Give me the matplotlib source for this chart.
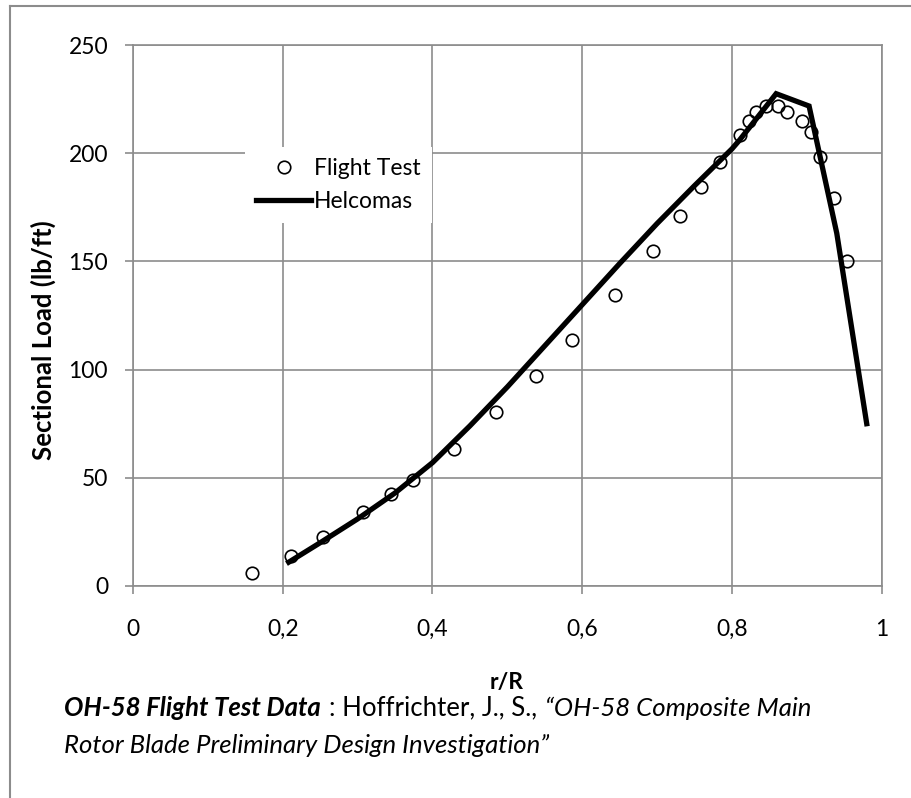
import numpy as np
import matplotlib.pyplot as plt
from matplotlib.lines import Line2D

plt.rcParams['font.family'] = ['Lato', 'DejaVu Sans']

# Flight test data (circles)
test_x = [0.159, 0.211, 0.254, 0.307, 0.345, 0.374, 0.429, 0.485, 0.538, 0.587,
          0.644, 0.694, 0.730, 0.758, 0.784, 0.811, 0.823, 0.832, 0.845, 0.861,
          0.874, 0.894, 0.905, 0.917, 0.936, 0.954]
test_y = [6.0, 14.0, 22.5, 34.2, 42.4, 49.0, 63.5, 80.2, 97.0, 113.5,
          134.6, 154.8, 170.8, 184.2, 195.8, 208.5, 215.0, 219.0, 222.0, 221.8,
          219.2, 214.9, 209.9, 198.4, 179.5, 150.3]

# Helcomas prediction (line)
helc_x = [0.208, 0.25, 0.30, 0.35, 0.40, 0.45, 0.50, 0.55, 0.60, 0.65,
          0.70, 0.75, 0.80, 0.81, 0.859, 0.903, 0.94, 0.98]
helc_y = [11.0, 20.0, 31.0, 43.0, 57.0, 74.0, 92.0, 111.0, 130.0, 149.0,
          167.5, 185.0, 202.0, 206.0, 227.5, 221.8, 163.0, 75.0]

xticks = [0, 0.2, 0.4, 0.6, 0.8, 1.0]
xticklabels = ['0', '0,2', '0,4', '0,6', '0,8', '1']
yticks = [0, 50, 100, 150, 200, 250]

W, H = 911, 798
fs = 16.5
cap_fs = 18.5
grey = '#8c8c8c'

def fx(px):
    return px / W

def fy(py):
    return 1 - py / H

fig = plt.figure(figsize=(W / 100, H / 100), dpi=100)
ax = fig.add_axes([fx(133), fy(586), (881.7 - 133) / W, (586 - 45) / H])

ax.plot(helc_x, helc_y, color='black', lw=3.8, solid_joinstyle='miter', zorder=3)
ax.plot(test_x, test_y, 'o', ms=9, mfc='none', mec='black', mew=1.2, zorder=4)

ax.set_xlim(0, 1)
ax.set_ylim(0, 250)
ax.set_xticks(xticks)
ax.set_xticklabels(xticklabels)
ax.set_yticks(yticks)
ax.grid(True, color=grey, lw=1.2)
ax.set_axisbelow(True)
for s in ax.spines.values():
    s.set_color(grey)
    s.set_linewidth(1.2)
ax.tick_params(axis='both', colors=grey, labelcolor='black', labelsize=fs,
               length=6, width=1.2, direction='out')
ax.tick_params(axis='y', pad=12)
ax.tick_params(axis='x', pad=18)

# legend
handles = [Line2D([], [], ls='none', marker='o', ms=9, mfc='none', mec='black', mew=1.2),
           Line2D([], [], color='black', lw=3.8)]
leg = ax.legend(handles, ['Flight Test', 'Helcomas'], loc='upper left',
                bbox_to_anchor=(fx(245), fy(147)), bbox_transform=fig.transFigure,
                fontsize=fs, frameon=True, fancybox=False, framealpha=1,
                facecolor='white', edgecolor='none', borderaxespad=0,
                borderpad=0.5, handlelength=2.4, handletextpad=0.1,
                labelspacing=0.5, numpoints=1)
leg.set_zorder(5)

# axis titles
fig.text(fx(43), fy(340), 'Sectional Load (lb/ft)', rotation=90, fontsize=18.5,
         fontweight='bold', ha='center', va='center')
fig.text(fx(507), fy(682), 'r/R', fontsize=fs, fontweight='bold',
         ha='center', va='center')

# caption with mixed styles
r = fig.canvas.get_renderer()
x = 64
pieces = [('OH-58 Flight Test Data', 'bold', 'italic'),
          (': Hoffrichter, J., S.,', 'normal', 'normal'),
          ('\u201cOH-58 Composite Main', 'normal', 'italic')]
for txt, wt, st in pieces:
    t = fig.text(fx(x), fy(708), txt, fontsize=cap_fs, fontweight=wt, fontstyle=st,
                 ha='left', va='center')
    bb = t.get_window_extent(r)
    x = bb.x1 + 8
fig.text(fx(64), fy(745), 'Rotor Blade Preliminary Design Investigation\u201d',
         fontsize=cap_fs, fontstyle='italic', ha='left', va='center')

# outer frame of the chart object
fig.add_artist(Line2D([fx(10), fx(10)], [fy(6), 0], transform=fig.transFigure,
                      color=grey, lw=1.5))
fig.add_artist(Line2D([fx(10), 1], [fy(6), fy(6)], transform=fig.transFigure,
                      color=grey, lw=1.5))

fig.savefig('out.png', dpi=100)
